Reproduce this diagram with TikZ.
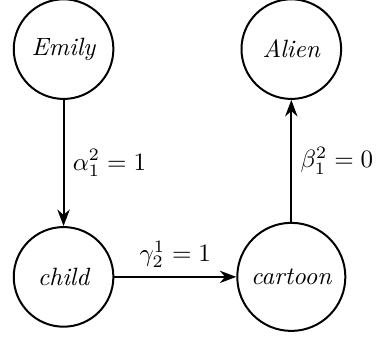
\documentclass[tikz,border=0pt]{standalone}
\usepackage{amsmath,amssymb}
\usepackage{tikz}
\usetikzlibrary{arrows.meta, positioning}

\begin{document}
\begin{tikzpicture}[
      concept/.style={circle, draw, thick, minimum size=1.4cm, inner sep=4.3pt, font=\itshape},
      lbl/.style={font=\normalsize},
      arr/.style={-Stealth, thick},
      node distance=3.2cm, on grid
    ]
    \useasboundingbox (-0.893,0.69) rectangle (4.39,-4.035);
    \node[concept] (emily) {Emily};
    \node[concept, right=of emily] (alien) {Alien};
    \node[concept, below=of emily] (child) {child};
    \node[concept, right=of child] (cartoon) {cartoon};

    \draw[arr] (emily) -- (child) node[midway, right, lbl] {$\alpha_1^2 = 1$};
    \draw[arr] (child) -- (cartoon) node[midway, above, lbl] {$\gamma_2^1 = 1$};
    \draw[arr] (cartoon) -- (alien) node[midway, right, lbl] {$\beta_1^2 = 0$};
  \end{tikzpicture}
\end{document}
